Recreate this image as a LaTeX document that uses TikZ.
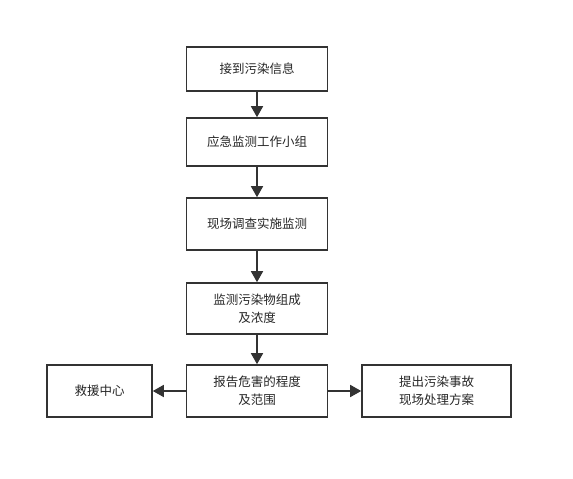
\documentclass[tikz,border=0pt]{standalone}
\usepackage{fontspec}
\newfontfamily\cjk{Noto Sans CJK SC}
\usetikzlibrary{arrows.meta}
\colorlet{mygray}{black!80}
\tikzstyle{box}=[draw=mygray,line width=1.6pt,rectangle,inner sep=0,align=center,font=\cjk\fontsize{12.5}{18}\selectfont,text=black!85]
\tikzstyle{arr}=[draw=mygray,line width=1.6pt,-{Triangle[length=11pt,width=12pt]}]

\begin{document}
\begin{tikzpicture}[x=1pt,y=-1pt]
\useasboundingbox (0,0) rectangle (573,479);
\node[box,minimum width=141,minimum height=44] (info) at (257,69) {接到污染信息};
\node[box,minimum width=141,minimum height=48] (team) at (257,142) {应急监测工作小组};
\node[box,minimum width=141,minimum height=52] (survey) at (257,224) {现场调查实施监测};
\node[box,minimum width=141,minimum height=51] (conc) at (257,308.5) {监测污染物组成\\及浓度};
\node[box,minimum width=141,minimum height=52] (report) at (257,391) {报告危害的程度\\及范围};
\node[box,minimum width=105,minimum height=52] (rescue) at (99.5,391) {救援中心};
\node[box,minimum width=149,minimum height=52] (plan) at (436.5,391) {提出污染事故\\现场处理方案};

\draw[arr] (info) -- (team);
\draw[arr] (team) -- (survey);
\draw[arr] (survey) -- (conc);
\draw[arr] (conc) -- (report);
\draw[arr] (report) -- (rescue);
\draw[arr] (report) -- (plan);
\end{tikzpicture}
\end{document}
